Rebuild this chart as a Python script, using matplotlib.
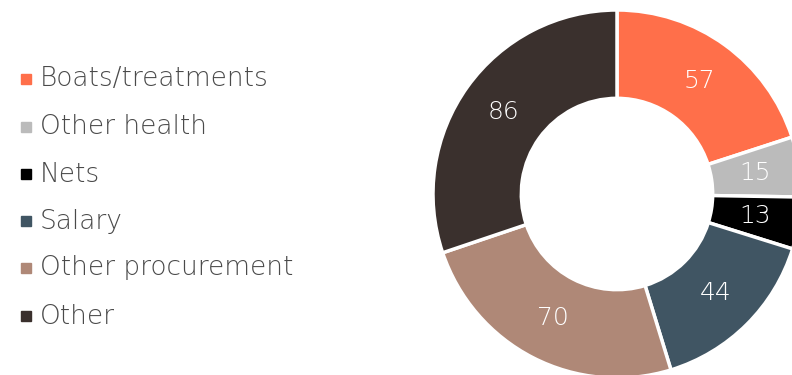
import numpy as np
import matplotlib.pyplot as plt
from matplotlib.patches import Rectangle

plt.rcParams['font.family'] = ['DejaVu Sans']

categories = ['Boats/treatments', 'Other health', 'Nets', 'Salary',
              'Other procurement', 'Other']
values = [57, 15, 13, 44, 70, 86]
colors = ['#FF6F4A', '#BBBBBB', '#000000', '#405563', '#AF8877', '#3A302D']

W, H = 792, 375
fig = plt.figure(figsize=(W / 100, H / 100), dpi=100)

# donut: centre (617, 194) px from top-left, outer radius 184 px
cx, cy, r = 617, 194, 184
ax = fig.add_axes([(cx - r) / W, (H - cy - r) / H, 2 * r / W, 2 * r / H])
wedges, _ = ax.pie(values, colors=colors, startangle=90, counterclock=False,
                   radius=1.0,
                   wedgeprops=dict(width=0.48, edgecolor='white', linewidth=2.5))
ax.set_xlim(-1, 1)
ax.set_ylim(-1, 1)
ax.set_aspect('equal')
ax.axis('off')

total = sum(values)
start = 90.0
for v in values:
    mid = np.deg2rad(start - v / total * 180.0)
    ax.text(0.76 * np.cos(mid), 0.76 * np.sin(mid), str(v), color='white',
            fontsize=18, fontweight='light', ha='center', va='center')
    start -= v / total * 360.0

# legend on the left
row_y = [79, 127, 174, 221, 268, 316]
for name, col, y in zip(categories, colors, row_y):
    fig.patches.append(Rectangle((21 / W, (H - y - 5) / H), 10 / W, 10 / H,
                                 transform=fig.transFigure, color=col))
    fig.text(40 / W, (H - y) / H, name, color='#4A4A4A', fontsize=19,
             fontweight='light', ha='left', va='center')

fig.savefig('out.png', dpi=100)
